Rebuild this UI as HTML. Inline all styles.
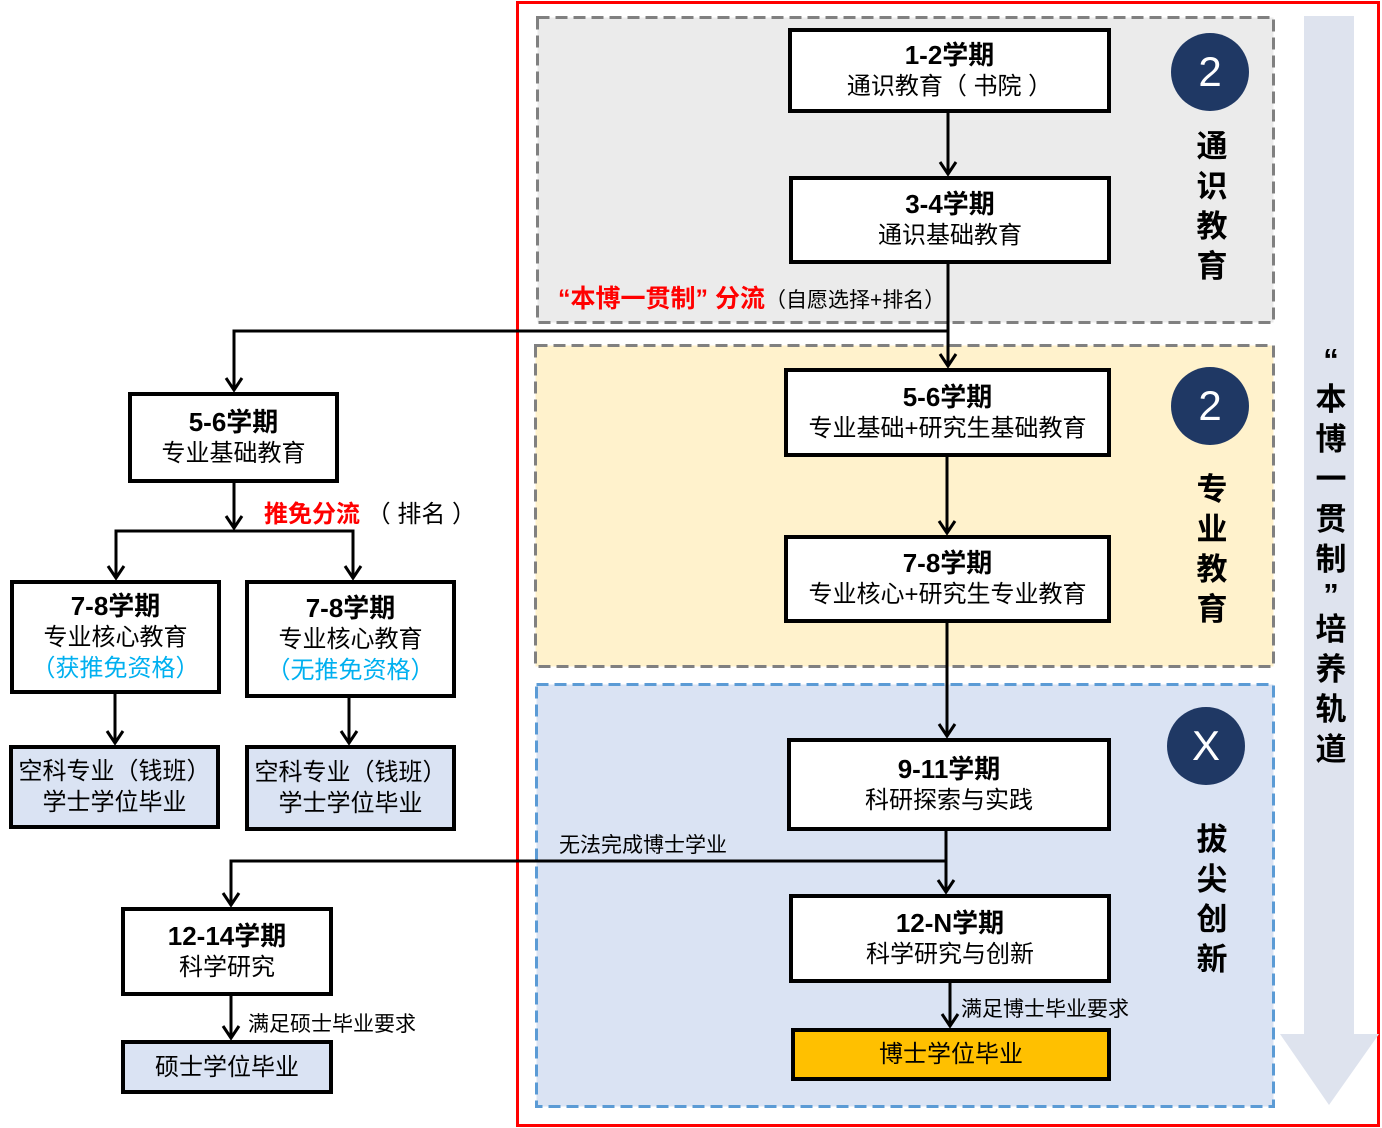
<!DOCTYPE html>
<html><head><meta charset="utf-8"><style>
*{margin:0;padding:0;box-sizing:border-box}
body{width:1382px;height:1128px;background:#fff;position:relative;overflow:hidden;font-family:"Liberation Sans","Noto Sans CJK SC",sans-serif;color:#000}
.a{position:absolute}
.b{position:absolute;border:4px solid #000;background:#fff;display:flex;flex-direction:column;align-items:center;justify-content:center;line-height:31px;font-size:24px;white-space:nowrap}
.b b{font-size:26px}
.c{position:absolute;border-radius:50%;background:#1f3864;color:#fff;font-size:42px;display:flex;align-items:center;justify-content:center;width:78px;height:78px}
.v{position:absolute;font-weight:bold;font-size:31px;width:40px;text-align:center;line-height:40px}
.bl{color:#00b0f0}
</style></head><body>
<svg class="a" style="left:0;top:0" width="1382" height="1128">
<rect x="537.5" y="17.5" width="736" height="305" fill="#ebebeb" stroke="#808080" stroke-width="3" stroke-dasharray="12,6"/>
<rect x="535.5" y="345.5" width="738" height="321" fill="#fff2cc" stroke="#808080" stroke-width="3" stroke-dasharray="12,6"/>
<rect x="536.5" y="684.5" width="737" height="422" fill="#dae3f3" stroke="#5b9bd5" stroke-width="3" stroke-dasharray="12,6"/>
<rect x="517.5" y="2.5" width="861" height="1123" fill="none" stroke="#f00" stroke-width="3"/>
<polygon points="1304,16 1354,16 1354,1034 1379,1034 1329,1105 1280,1034 1304,1034" fill="#dee3ee"/>
<g stroke="#000" stroke-width="3" fill="none">
<path d="M948 112V174M940 162l8 12 8-12"/>
<path d="M948 263V366M940 354l8 12 8-12"/>
<path d="M948 331H234V390M226 378l8 12 8-12"/>
<path d="M947 456V533M939 521l8 12 8-12"/>
<path d="M947 622V736M939 724l8 12 8-12"/>
<path d="M946 830V892M938 880l8 12 8-12"/>
<path d="M946 861H231V905M223 893l8 12 8-12"/>
<path d="M234 482V528M226 516l8 12 8-12"/>
<path d="M116 578V531H353V578M108 566l8 12 8-12M345 566l8 12 8-12"/>
<path d="M115 693V743M107 731l8 12 8-12"/>
<path d="M349 697V743M341 731l8 12 8-12"/>
<path d="M231 995V1038M223 1026l8 12 8-12"/>
<path d="M950 982V1026M942 1014l8 12 8-12"/>
</g></svg>
<div class="b" style="left:788px;top:28px;width:323px;height:85px"><b>1-2学期</b><span>通识教育（ 书院 ）</span></div>
<div class="b" style="left:789px;top:176px;width:322px;height:88px"><b>3-4学期</b><span>通识基础教育</span></div>
<div class="b" style="left:784px;top:368px;width:327px;height:89px"><b>5-6学期</b><span>专业基础+研究生基础教育</span></div>
<div class="b" style="left:784px;top:535px;width:327px;height:88px"><b>7-8学期</b><span>专业核心+研究生专业教育</span></div>
<div class="b" style="left:787px;top:738px;width:324px;height:93px"><b>9-11学期</b><span>科研探索与实践</span></div>
<div class="b" style="left:789px;top:894px;width:322px;height:89px"><b>12-N学期</b><span>科学研究与创新</span></div>
<div class="b" style="left:791px;top:1028px;width:320px;height:53px;background:#ffc000">博士学位毕业</div>
<div class="b" style="left:128px;top:392px;width:211px;height:91px"><b>5-6学期</b><span>专业基础教育</span></div>
<div class="b" style="left:10px;top:580px;width:211px;height:114px"><b>7-8学期</b><span>专业核心教育</span><span class="bl">（获推免资格）</span></div>
<div class="b" style="left:245px;top:580px;width:211px;height:118px"><b>7-8学期</b><span>专业核心教育</span><span class="bl">（无推免资格）</span></div>
<div class="b" style="left:9px;top:745px;width:211px;height:84px;background:#dae3f3"><span>空科专业（钱班）</span><span>学士学位毕业</span></div>
<div class="b" style="left:245px;top:745px;width:211px;height:86px;background:#dae3f3"><span>空科专业（钱班）</span><span>学士学位毕业</span></div>
<div class="b" style="left:121px;top:907px;width:212px;height:89px"><b>12-14学期</b><span>科学研究</span></div>
<div class="b" style="left:121px;top:1040px;width:212px;height:54px;background:#dae3f3">硕士学位毕业</div>
<div class="a" style="left:558px;top:279px;font-size:25px;white-space:nowrap"><b style="color:#f00">“本博一贯制” 分流</b><span style="font-size:21px">（自愿选择+排名）</span></div>
<div class="a" style="left:264px;top:494px;font-size:24px;white-space:nowrap"><b style="color:#f00">推免分流</b> （ 排名 ）</div>
<div class="a" style="left:559px;top:829px;font-size:21px;white-space:nowrap">无法完成博士学业</div>
<div class="a" style="left:961px;top:993px;font-size:21px;white-space:nowrap">满足博士毕业要求</div>
<div class="a" style="left:248px;top:1008px;font-size:21px;white-space:nowrap">满足硕士毕业要求</div>
<div class="c" style="left:1171px;top:33px">2</div>
<div class="c" style="left:1171px;top:367px">2</div>
<div class="c" style="left:1167px;top:707px">X</div>
<div class="v" style="left:1192px;top:127px">通<br>识<br>教<br>育</div>
<div class="v" style="left:1192px;top:470px">专<br>业<br>教<br>育</div>
<div class="v" style="left:1192px;top:820px">拔<br>尖<br>创<br>新</div>
<div class="v" style="left:1311px;top:340px;line-height:40px">“<br>本<br>博<br>一<br>贯<br>制<br><span style="display:block;height:30px;line-height:30px">”</span>培<br>养<br>轨<br>道</div>
</body></html>
